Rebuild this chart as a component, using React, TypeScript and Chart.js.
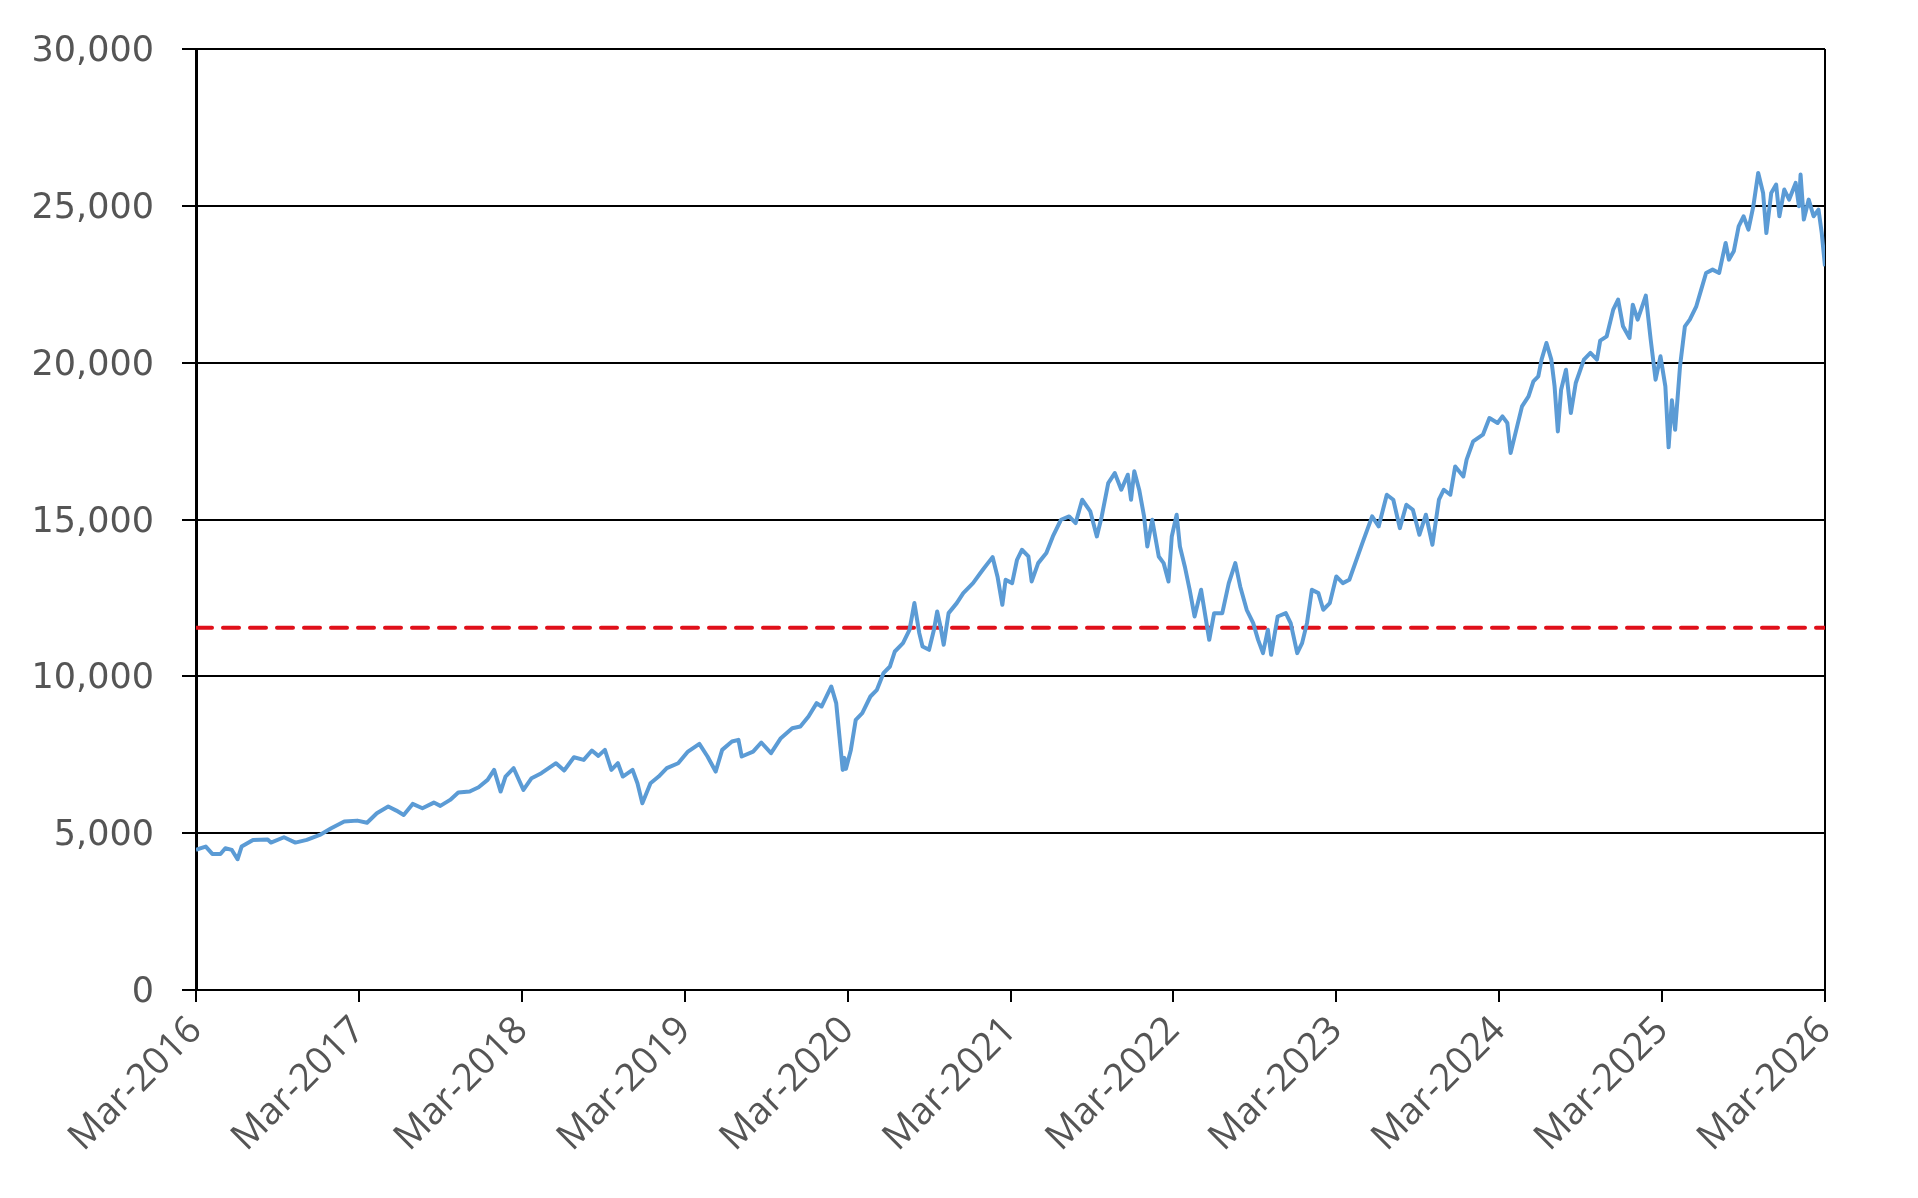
import React, { useEffect, useRef } from "react";
import { Chart, registerables } from "chart.js";

Chart.register(...registerables);

// Time in years since Mar-2016
const t: number[] = [
  0.00, 0.03, 0.06, 0.10, 0.15, 0.18, 0.22, 0.255, 0.28, 0.35, 0.44, 0.46, 0.54, 0.61, 0.68, 0.76, 0.83, 0.91, 0.99,
  1.05, 1.11, 1.18, 1.23, 1.275, 1.33, 1.39, 1.46, 1.50, 1.56, 1.61, 1.68, 1.735, 1.79, 1.83, 1.87, 1.90, 1.95,
  2.01, 2.06, 2.12, 2.21, 2.26, 2.32, 2.38, 2.43, 2.47, 2.51, 2.55, 2.59, 2.62, 2.68, 2.71, 2.74, 2.79, 2.84, 2.89, 2.96,
  3.02, 3.09, 3.14, 3.19, 3.23, 3.29, 3.33, 3.35, 3.42, 3.47, 3.53, 3.59, 3.66, 3.71, 3.76, 3.81, 3.84, 3.90, 3.93, 3.95,
  3.97, 3.98, 3.99, 4.02, 4.05, 4.09, 4.14, 4.18, 4.22, 4.26, 4.29, 4.34, 4.38, 4.41, 4.44, 4.46, 4.50, 4.53, 4.55, 4.57,
  4.59, 4.62, 4.67, 4.71, 4.77, 4.83, 4.89, 4.92, 4.95, 4.97, 5.01, 5.04, 5.07, 5.11, 5.13, 5.17, 5.22, 5.26, 5.31, 5.36,
  5.40, 5.44, 5.49, 5.53, 5.56, 5.60, 5.64, 5.68, 5.72, 5.74, 5.76, 5.79, 5.82, 5.84, 5.87, 5.91, 5.94, 5.97, 5.99, 6.02,
  6.04, 6.07, 6.10, 6.13, 6.17, 6.20, 6.22, 6.25, 6.30, 6.34, 6.38, 6.41, 6.45, 6.49, 6.52, 6.55, 6.58, 6.60, 6.64, 6.69,
  6.72, 6.76, 6.79, 6.82, 6.85, 6.89, 6.92, 6.96, 7.00, 7.04, 7.08, 7.16, 7.22, 7.26, 7.31, 7.35, 7.39, 7.43, 7.47, 7.51,
  7.55, 7.59, 7.63, 7.66, 7.70, 7.73, 7.78, 7.80, 7.84, 7.90, 7.94, 7.99, 8.02, 8.05, 8.07, 8.11, 8.14, 8.18, 8.21, 8.24,
  8.26, 8.29, 8.32, 8.34, 8.36, 8.38, 8.41, 8.44, 8.47, 8.52, 8.56, 8.60, 8.62, 8.66, 8.70, 8.73, 8.76, 8.80, 8.82, 8.85,
  8.90, 8.93, 8.96, 8.99, 9.02, 9.04, 9.06, 9.08, 9.11, 9.14, 9.17, 9.21, 9.24, 9.27, 9.31, 9.35, 9.39, 9.41, 9.44, 9.47,
  9.50, 9.53, 9.56, 9.59, 9.62, 9.64, 9.67, 9.70, 9.72, 9.75, 9.78, 9.82, 9.84, 9.85, 9.87, 9.90, 9.93, 9.96, 9.98, 10.0,
];

const indexValues: number[] = [
  4466, 4520, 4572, 4338, 4338, 4519, 4466, 4168, 4572, 4785, 4800, 4700, 4870, 4700, 4785, 4944, 5157, 5369, 5400,
  5333, 5635, 5848, 5720, 5582, 5933, 5795, 5975, 5870, 6061, 6294, 6326, 6465, 6699, 7018, 6326, 6805, 7071,
  6380, 6752, 6912, 7230, 6997, 7422, 7337, 7634, 7464, 7655, 7018, 7230, 6805, 7018, 6592, 5954, 6592, 6805, 7071, 7230,
  7602, 7847, 7443, 6964, 7655, 7921, 7975, 7443, 7602, 7890, 7549, 8028, 8347, 8400, 8719, 9145, 9038, 9676, 9145, 8081,
  7018, 7400, 7050, 7655, 8612, 8825, 9357, 9570, 10101, 10314, 10792, 11058, 11483, 12335, 11377, 10951, 10845, 11483, 12068, 11590,
  11005, 12015, 12334, 12653, 12972, 13397, 13801, 13184, 12281, 13078, 12972, 13716, 14035, 13822, 13025, 13609, 13929, 14460, 14992, 15098,
  14886, 15630, 15258, 14460, 15098, 16162, 16481, 15949, 16428, 15630, 16535, 15949, 15098, 14141, 14992, 13822, 13609, 13025, 14460, 15152,
  14141, 13503, 12759, 11908, 12759, 11801, 11164, 12015, 12015, 12972, 13609, 12866, 12122, 11696, 11164, 10739, 11483, 10686, 11908, 12015,
  11696, 10739, 11058, 11696, 12759, 12653, 12122, 12334, 13184, 12972, 13078, 14248, 15098, 14779, 15789, 15630, 14726, 15470, 15311, 14513,
  15152, 14195, 15630, 15949, 15789, 16692, 16374, 16907, 17490, 17703, 18235, 18076, 18288, 18076, 17119, 17969, 18607, 18926, 19404, 19564,
  20096, 20627, 20096, 19245, 17809, 19139, 19777, 18395, 19351, 20096, 20309, 20096, 20700, 20840, 21691, 22010, 21159, 20787, 21850, 21371,
  22137, 20734, 19458, 20202, 19245, 17300, 18800, 17862, 19883, 21159, 21371, 21797, 22329, 22860, 22967, 22860, 23817, 23285, 23551, 24348,
  24667, 24242, 24986, 26050, 25412, 24135, 25412, 25678, 24667, 25518, 25199, 25731, 24986, 25997, 24561, 25199, 24667, 24880, 24135, 23072,
];

const thresholdValue = 11550;
const thresholdSpan: number[] = [0, 10];

const tickYears: number[] = [2016, 2017, 2018, 2019, 2020, 2021, 2022, 2023, 2024, 2025, 2026];
const yTicks: number[] = [0, 5000, 10000, 15000, 20000, 25000, 30000];

export default function App() {
  const canvasRef = useRef<HTMLCanvasElement | null>(null);

  useEffect(() => {
    if (!canvasRef.current) return;
    const lineData = t.map((x, i) => ({ x, y: indexValues[i] }));
    const thresholdData = thresholdSpan.map((x) => ({ x, y: thresholdValue }));
    const chart = new Chart(canvasRef.current, {
      type: "line",
      data: {
        datasets: [
          {
            data: thresholdData,
            borderColor: "#E0101A",
            borderWidth: 4,
            borderDash: [16, 11],
            borderCapStyle: "round",
            pointRadius: 0,
            fill: false,
            order: 2,
          },
          {
            data: lineData,
            borderColor: "#5B9BD5",
            borderWidth: 4,
            borderJoinStyle: "round",
            pointRadius: 0,
            tension: 0,
            fill: false,
            order: 1,
          },
        ],
      },
      options: {
        animation: false,
        responsive: true,
        maintainAspectRatio: false,
        layout: { padding: { top: 49, right: 93, left: 0, bottom: 0 } },
        plugins: { legend: { display: false }, tooltip: { enabled: false } },
        scales: {
          x: {
            type: "linear",
            min: 0,
            max: 10,
            afterBuildTicks: (s: any) => {
              s.ticks = tickYears.map((yr) => ({ value: yr - 2016 }));
            },
            afterFit: (s: any) => {
              s.height = 208;
            },
            border: { display: true, color: "#000", width: 2 },
            grid: {
              drawOnChartArea: true,
              drawTicks: true,
              tickLength: 12,
              lineWidth: 2,
              color: (ctx: any) => (ctx.tick && ctx.tick.value === 10 ? "#000" : "rgba(0,0,0,0)"),
              tickColor: "#000",
            },
            ticks: {
              autoSkip: false,
              maxRotation: 45,
              minRotation: 45,
              padding: 6,
              color: "#555555",
              font: { family: "'Open Sans'", size: 38 },
              callback: (v: any) => "Mar-" + (2016 + Math.round(Number(v))),
            },
          },
          y: {
            min: 0,
            max: 30000,
            afterBuildTicks: (s: any) => {
              s.ticks = yTicks.map((v) => ({ value: v }));
            },
            afterFit: (s: any) => {
              s.width = 196;
            },
            border: { display: true, color: "#000", width: 3 },
            grid: {
              drawOnChartArea: true,
              drawTicks: true,
              tickLength: 14,
              lineWidth: 2,
              color: "#000",
              tickColor: "#000",
            },
            ticks: {
              padding: 28,
              labelOffset: 3,
              color: "#555555",
              font: { family: "'DejaVu Sans'", size: 35 },
              callback: (v: any) => Number(v).toLocaleString("en-US"),
            },
          },
        },
      },
    });
    return () => chart.destroy();
  }, []);

  return (
    <div style={{ position: "fixed", left: 0, top: 0, width: "100vw", height: "100vh", background: "#fff" }}>
      <canvas ref={canvasRef} />
    </div>
  );
}
